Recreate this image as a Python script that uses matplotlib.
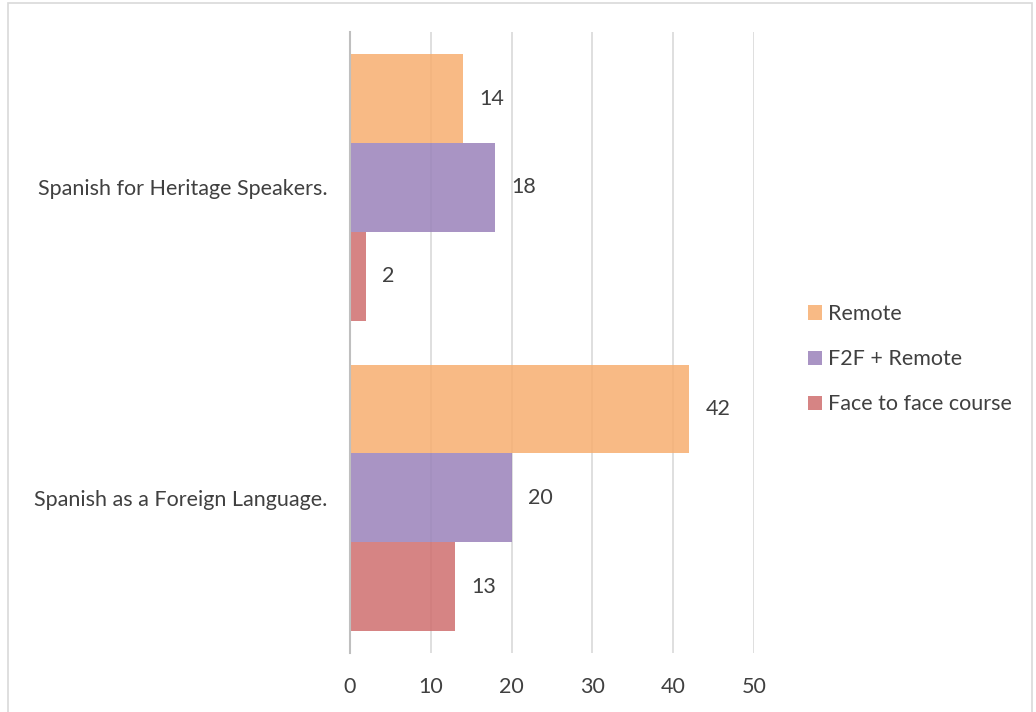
import numpy as np
import matplotlib.pyplot as plt
from matplotlib.patches import Rectangle

categories = ["Spanish as a Foreign Language.", "Spanish for Heritage Speakers."]
series = ["Remote", "F2F + Remote", "Face to face course"]
remote = [42, 14]
f2f_remote = [20, 18]
face_to_face = [13, 2]
colors = ["#F7AE70", "#9A82BA", "#CF6E6E"]

plt.rcParams['font.family'] = ['Lato', 'DejaVu Sans']
txt = "#404040"
fs = 15.5

fig = plt.figure(figsize=(10.36, 7.12), dpi=100)
ax = fig.add_axes([0.3378, 0.0829, 0.390, 0.872])

# marco del grafico
fig.patches.append(Rectangle((8 / 1036, -0.01), 1024 / 1036, 1.0 - 3 / 712 + 0.01,
                             transform=fig.transFigure, fill=False,
                             edgecolor="#D9D9D9", linewidth=1.2))

y = np.arange(len(categories))
h = 0.286
for i, (vals, name) in enumerate(zip([remote, f2f_remote, face_to_face], series)):
    pos = y + h * (1 - i)
    ax.barh(pos, vals, height=h, color=colors[i], alpha=0.85, label=name, zorder=3)
    for p, v in zip(pos, vals):
        ax.text(v + 2.0, p, str(v), va="center", ha="left", fontsize=fs, color=txt)

ax.set_xlim(0, 50)
ax.set_ylim(-0.5, 1.5)
ax.set_xticks(range(0, 51, 10))
ax.set_yticks(y)
ax.set_yticklabels(categories)
ax.grid(axis="x", color="#D9D9D9", linewidth=1.2, zorder=1)
for s in ["top", "right", "bottom"]:
    ax.spines[s].set_visible(False)
ax.spines["left"].set_color("#BFBFBF")
ax.spines["left"].set_linewidth(1.5)
ax.spines["left"].set_zorder(4)
ax.tick_params(axis="both", length=0, labelsize=fs, labelcolor=txt)
ax.tick_params(axis="x", pad=17)
ax.tick_params(axis="y", pad=16)

ax.legend(loc="center left", bbox_to_anchor=(1.134, 0.473), frameon=False,
          borderpad=0, borderaxespad=0,
          handlelength=0.65, handleheight=0.65, labelspacing=1.17,
          handletextpad=0.25, fontsize=fs, labelcolor=txt)

fig.savefig("out.png", dpi=100)
